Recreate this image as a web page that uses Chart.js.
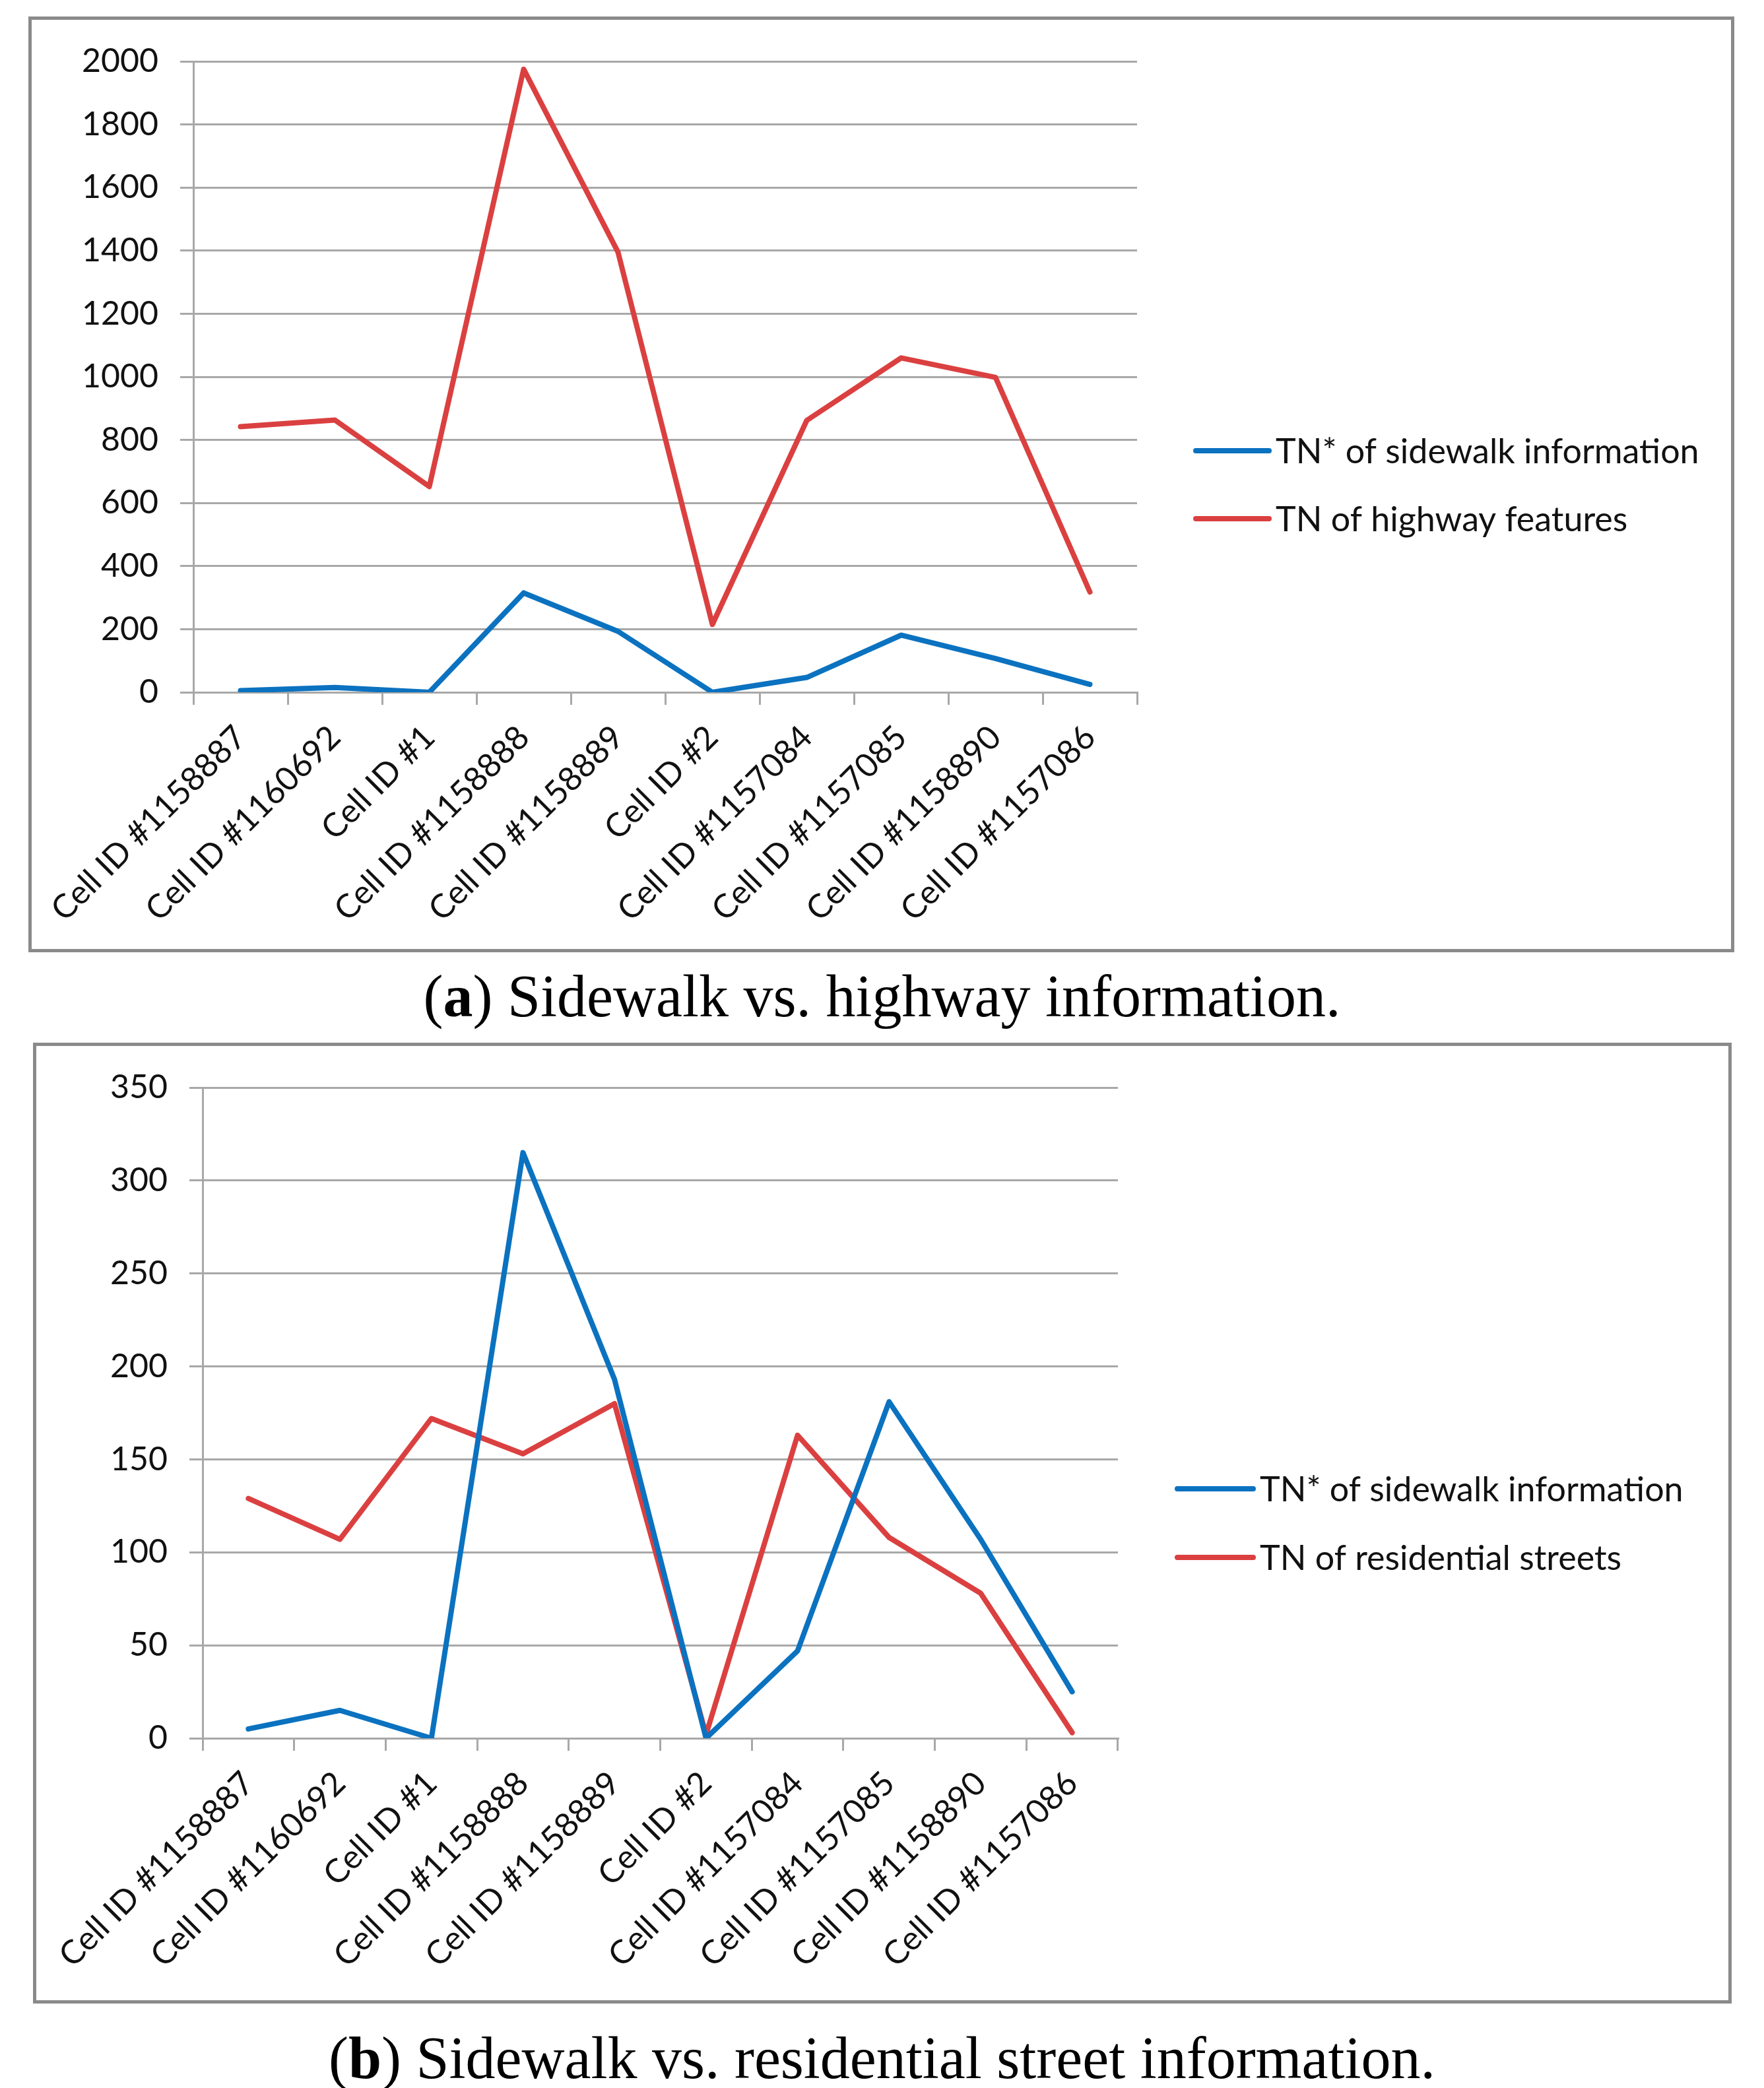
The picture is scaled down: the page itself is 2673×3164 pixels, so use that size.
<!DOCTYPE html>
<html>
<head>
<meta charset="utf-8">
<script src="https://cdn.jsdelivr.net/npm/chart.js@4.4.1/dist/chart.umd.min.js"></script>
<style>
  html, body { margin: 0; padding: 0; background: #fff; }
  body { width: 2673px; height: 3164px; position: relative; overflow: hidden; }
  .panel { position: absolute; border: 5px solid #8a8a8a; box-sizing: border-box; background: #fff; }
  .panel canvas { display: block; }
  .caption { position: absolute; left: 0; width: 2673px; text-align: center;
             font-family: "Liberation Serif", serif; font-size: 90px; line-height: 120px; color: #000; }
</style>
</head>
<body>
<div class="panel" style="left:43px; top:25px; width:2585px; height:1418px;">
  <canvas id="chartA" width="2575" height="1408"></canvas>
</div>
<div class="caption" style="top:1450px;">(<b>a</b>) Sidewalk vs. highway information.</div>

<div class="panel" style="left:50px; top:1580px; width:2574px; height:1456px;">
  <canvas id="chartB" width="2564" height="1446"></canvas>
</div>
<div class="caption" style="top:3059px;">(<b>b</b>) Sidewalk vs. residential street information.</div>

<script>
// categories
const cellIds = ['Cell ID #1158887', 'Cell ID #1160692', 'Cell ID #1', 'Cell ID #1158888', 'Cell ID #1158889',
                 'Cell ID #2', 'Cell ID #1157084', 'Cell ID #1157085', 'Cell ID #1158890', 'Cell ID #1157086'];

// series values
const sidewalkTN    = [5, 15, 0, 315, 193, 0, 47, 181, 107, 25];
const highwayTN     = [842, 863, 652, 1975, 1395, 215, 862, 1060, 998, 318];
const residentialTN = [129, 107, 172, 153, 180, 2, 163, 108, 78, 3];

// legend labels
const labelSidewalk    = 'TN* of sidewalk information';
const labelHighway     = 'TN of highway features';
const labelResidential = 'TN of residential streets';

// y axis ranges
const yMaxA = 2000, yStepA = 200;
const yMaxB = 350,  yStepB = 50;

const BLUE = '#0b72c0';
const RED = '#db4040';
const GRID = '#a8a8a8';
const FONT = 'Lato, "Open Sans", sans-serif';

Chart.defaults.font.family = FONT;
Chart.defaults.color = '#111';

function lineSet(label, data, color) {
    return {
        label: label,
        data: data,
        borderColor: color,
        backgroundColor: color,
        borderWidth: 8,
        borderCapStyle: 'round',
        borderJoinStyle: 'round',
        pointRadius: 0,
        tension: 0,
        fill: false
    };
}

// Excel-like legend in the right margin: short line, then the label
const sideLegend = {
    id: 'sideLegend',
    afterDraw: function (chart, args, opts) {
        const ctx = chart.ctx;
        ctx.save();
        ctx.font = '52px ' + FONT;
        ctx.textBaseline = 'middle';
        ctx.textAlign = 'left';
        chart.data.datasets.forEach(function (ds, i) {
            const y = opts.rows[i];
            ctx.strokeStyle = ds.borderColor;
            ctx.lineWidth = ds.borderWidth;
            ctx.lineCap = 'round';
            ctx.beginPath();
            ctx.moveTo(opts.x0, y);
            ctx.lineTo(opts.x1, y);
            ctx.stroke();
            ctx.fillStyle = '#111';
            ctx.fillText(ds.label, opts.textX, y + 2);
        });
        ctx.restore();
    }
};

// area = wanted plot area in canvas pixels
function makeChart(id, datasets, yMax, yStep, area, legendPos) {
    const canvas = document.getElementById(id);
    const W = canvas.width, H = canvas.height;

    return new Chart(canvas.getContext('2d'), {
        type: 'line',
        data: { labels: cellIds, datasets: datasets },
        plugins: [sideLegend],
        options: {
            responsive: false,
            animation: false,
            devicePixelRatio: 1,
            layout: { padding: { top: area.top, bottom: 0, left: 0, right: W - area.right } },
            plugins: {
                tooltip: { enabled: false },
                legend: { display: false },
                sideLegend: legendPos
            },
            scales: {
                x: {
                    offset: true,
                    afterFit: function (scale) { scale.height = H - area.bottom; },
                    grid: { offset: true, drawOnChartArea: false, drawTicks: true, tickLength: 19, color: GRID, lineWidth: 3 },
                    border: { display: true, color: GRID, width: 3 },
                    ticks: { autoSkip: false, minRotation: 45, maxRotation: 45, padding: 20, font: { size: 50 }, color: '#111' }
                },
                y: {
                    min: 0,
                    max: yMax,
                    afterFit: function (scale) { scale.width = area.left; },
                    grid: { color: GRID, lineWidth: 3, drawTicks: true, tickLength: 20 },
                    border: { display: true, color: GRID, width: 3 },
                    ticks: {
                        stepSize: yStep, padding: 33, font: { size: 50 }, color: '#111',
                        callback: function (v) { return String(v); }
                    }
                }
            }
        }
    });
}

makeChart('chartA',
    [lineSet(labelSidewalk, sidewalkTN, BLUE), lineSet(labelHighway, highwayTN, RED)],
    yMaxA, yStepA,
    { left: 245, top: 58, right: 1675, bottom: 1019 },
    { x0: 1764, x1: 1875, textX: 1885, rows: [653, 756] });

makeChart('chartB',
    [lineSet(labelSidewalk, sidewalkTN, BLUE), lineSet(labelResidential, residentialTN, RED)],
    yMaxB, yStepB,
    { left: 252, top: 58, right: 1639, bottom: 1049 },
    { x0: 1729, x1: 1844, textX: 1854, rows: [671, 775] });
</script>
</body>
</html>
